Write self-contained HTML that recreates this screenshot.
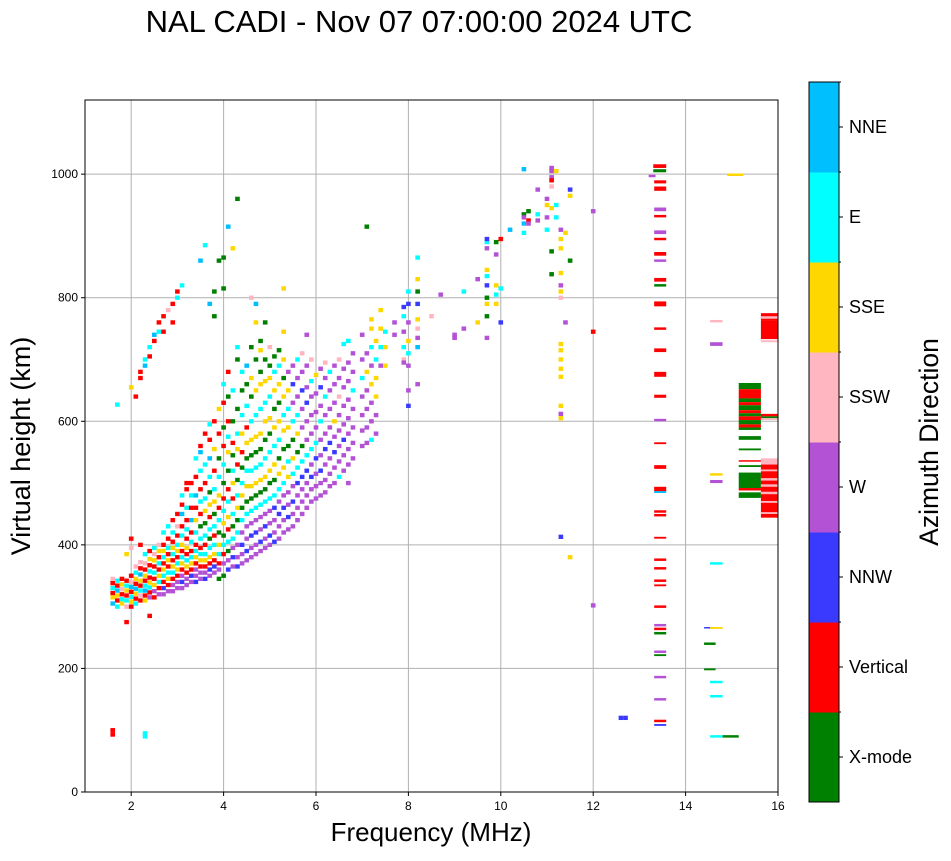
<!DOCTYPE html>
<html><head><meta charset="utf-8"><style>
body{margin:0;background:#fff;font-family:"Liberation Sans",sans-serif}
svg text{font-family:"Liberation Sans",sans-serif}
</style></head><body>
<svg id="chart" width="951" height="856" xmlns="http://www.w3.org/2000/svg">
<text x="419" y="32" font-size="31" text-anchor="middle">NAL CADI - Nov 07 07:00:00 2024 UTC</text>
<g id="grid"></g>
<g id="marks"></g>
<rect x="85" y="100" width="693" height="692" fill="none" stroke="#000" stroke-width="1"/>
<g id="axes"></g>
<text x="431" y="841" font-size="26" text-anchor="middle">Frequency (MHz)</text>
<text x="0" y="0" font-size="27" text-anchor="middle" transform="translate(30,446) rotate(-90)">Virtual height (km)</text>
<g id="cbar"></g>
<text x="0" y="0" font-size="26.5" text-anchor="middle" transform="translate(938,442) rotate(-90)">Azimuth Direction</text>
</svg>
<script>
const categories=["X-mode","Vertical","NNW","W","SSW","SSE","E","NNE"];
const colors=["#008000","#ff0000","#3a3aff","#b452d6","#ffb6c1","#ffd700","#00ffff","#00bfff"];
const xTicks=[2,4,6,8,10,12,14,16];
const yTicks=[0,200,400,600,800,1000];
// cells: [freq MHz, height km, category index] g0 r1 b2 w3 p4 y5 c6 n7
const cells=[
[1.6,305,7],[1.6,315,5],[1.6,322,1],[1.6,330,6],[1.6,338,1],[1.6,345,4],[1.6,100,1],[1.6,93,1],
[1.7,300,6],[1.7,310,1],[1.7,318,5],[1.7,326,7],[1.7,334,1],[1.7,342,6],[1.7,627,6],
[1.8,305,5],[1.8,312,6],[1.8,320,1],[1.8,328,4],[1.8,336,5],[1.8,345,1],
[1.9,275,1],[1.9,300,4],[1.9,310,6],[1.9,318,1],[1.9,326,5],[1.9,334,6],[1.9,342,1],[1.9,385,5],
[2.0,300,1],[2.0,308,5],[2.0,316,6],[2.0,324,1],[2.0,332,7],[2.0,340,4],[2.0,350,1],[2.0,395,4],[2.0,655,5],[2.0,410,1],
[2.1,305,6],[2.1,313,1],[2.1,321,5],[2.1,329,7],[2.1,337,1],[2.1,345,5],[2.1,355,6],[2.1,365,4],[2.1,640,1],
[2.2,310,1],[2.2,318,4],[2.2,326,6],[2.2,334,1],[2.2,342,5],[2.2,352,7],[2.2,362,1],[2.2,372,4],[2.2,400,1],[2.2,670,1],[2.2,680,1],
[2.3,310,5],[2.3,318,1],[2.3,326,7],[2.3,334,6],[2.3,342,1],[2.3,350,5],[2.3,360,1],[2.3,370,4],[2.3,385,6],[2.3,690,7],[2.3,700,6],[2.3,95,6],[2.3,90,6],
[2.4,285,1],[2.4,315,3],[2.4,323,1],[2.4,331,6],[2.4,339,5],[2.4,347,1],[2.4,357,6],[2.4,367,1],[2.4,377,5],[2.4,390,1],[2.4,705,1],[2.4,720,6],
[2.5,315,1],[2.5,325,3],[2.5,335,5],[2.5,345,1],[2.5,355,6],[2.5,365,1],[2.5,375,5],[2.5,385,4],[2.5,395,6],[2.5,730,1],[2.5,740,7],
[2.6,320,3],[2.6,330,1],[2.6,340,6],[2.6,350,5],[2.6,360,1],[2.6,370,6],[2.6,380,1],[2.6,390,5],[2.6,400,4],[2.6,745,6],[2.6,760,1],
[2.7,320,3],[2.7,330,2],[2.7,340,1],[2.7,350,6],[2.7,360,5],[2.7,370,1],[2.7,380,6],[2.7,390,5],[2.7,400,1],[2.7,420,6],[2.7,770,1],[2.7,745,1],
[2.8,325,3],[2.8,335,1],[2.8,345,5],[2.8,355,6],[2.8,365,1],[2.8,375,5],[2.8,385,1],[2.8,395,6],[2.8,410,1],[2.8,430,6],[2.8,780,4],
[2.9,325,3],[2.9,335,3],[2.9,345,1],[2.9,355,6],[2.9,365,5],[2.9,375,1],[2.9,385,6],[2.9,395,5],[2.9,405,1],[2.9,420,6],[2.9,440,1],[2.9,760,1],[2.9,790,1],
[3.0,330,3],[3.0,340,3],[3.0,350,1],[3.0,360,5],[3.0,370,6],[3.0,380,1],[3.0,390,5],[3.0,400,6],[3.0,415,1],[3.0,430,4],[3.0,450,1],[3.0,800,6],[3.0,810,1],
[3.1,330,3],[3.1,340,2],[3.1,350,3],[3.1,360,1],[3.1,370,5],[3.1,380,6],[3.1,390,1],[3.1,400,5],[3.1,415,6],[3.1,430,1],[3.1,450,7],[3.1,465,1],[3.1,480,6],[3.1,820,6],
[3.2,335,3],[3.2,345,3],[3.2,355,1],[3.2,365,5],[3.2,375,6],[3.2,385,1],[3.2,395,5],[3.2,410,1],[3.2,425,6],[3.2,440,1],[3.2,460,6],[3.2,490,1],[3.2,500,1],
[3.3,340,3],[3.3,350,2],[3.3,360,1],[3.3,370,5],[3.3,380,6],[3.3,390,1],[3.3,405,6],[3.3,420,1],[3.3,440,7],[3.3,460,1],[3.3,480,6],[3.3,500,1],
[3.4,340,2],[3.4,350,3],[3.4,360,3],[3.4,370,1],[3.4,380,5],[3.4,390,6],[3.4,400,1],[3.4,420,6],[3.4,440,5],[3.4,460,1],[3.4,480,7],[3.4,510,1],[3.4,540,6],
[3.5,345,3],[3.5,355,3],[3.5,365,1],[3.5,375,5],[3.5,385,6],[3.5,395,1],[3.5,410,6],[3.5,430,0],[3.5,450,1],[3.5,470,6],[3.5,490,1],[3.5,520,6],[3.5,550,7],[3.5,560,1],[3.5,860,7],
[3.6,345,2],[3.6,355,3],[3.6,365,1],[3.6,375,5],[3.6,385,6],[3.6,400,1],[3.6,415,6],[3.6,435,0],[3.6,455,5],[3.6,475,6],[3.6,500,1],[3.6,530,6],[3.6,580,1],[3.6,885,6],
[3.7,350,3],[3.7,360,2],[3.7,370,1],[3.7,380,5],[3.7,395,6],[3.7,410,0],[3.7,425,6],[3.7,445,1],[3.7,465,5],[3.7,485,0],[3.7,510,6],[3.7,540,7],[3.7,570,1],[3.7,595,6],[3.7,790,7],
[3.8,355,3],[3.8,365,2],[3.8,375,1],[3.8,385,5],[3.8,400,6],[3.8,415,1],[3.8,430,6],[3.8,450,0],[3.8,470,5],[3.8,490,6],[3.8,520,1],[3.8,555,5],[3.8,600,1],[3.8,770,0],[3.8,810,0],
[3.9,345,0],[3.9,360,3],[3.9,370,1],[3.9,385,6],[3.9,400,5],[3.9,420,0],[3.9,440,6],[3.9,460,1],[3.9,480,5],[3.9,510,6],[3.9,540,0],[3.9,580,1],[3.9,620,5],[3.9,860,0],
[4.0,350,0],[4.0,370,3],[4.0,385,1],[4.0,400,6],[4.0,415,0],[4.0,435,5],[4.0,455,6],[4.0,475,1],[4.0,500,0],[4.0,530,6],[4.0,560,1],[4.0,590,0],[4.0,630,1],[4.0,660,6],[4.0,815,0],[4.0,865,0],
[4.1,360,2],[4.1,375,3],[4.1,390,0],[4.1,405,6],[4.1,425,1],[4.1,445,5],[4.1,470,6],[4.1,490,1],[4.1,520,0],[4.1,550,5],[4.1,575,6],[4.1,600,1],[4.1,640,0],[4.1,680,1],[4.1,915,7],
[4.2,365,3],[4.2,380,2],[4.2,395,3],[4.2,410,6],[4.2,430,0],[4.2,450,6],[4.2,475,1],[4.2,500,5],[4.2,520,6],[4.2,545,0],[4.2,565,1],[4.2,600,0],[4.2,650,6],[4.2,880,5],
[4.3,365,2],[4.3,380,3],[4.3,400,3],[4.3,420,6],[4.3,440,0],[4.3,460,5],[4.3,480,6],[4.3,505,0],[4.3,530,1],[4.3,555,5],[4.3,580,6],[4.3,620,0],[4.3,700,0],[4.3,960,0],[4.3,720,6],
[4.4,370,3],[4.4,385,3],[4.4,400,2],[4.4,420,3],[4.4,440,6],[4.4,460,0],[4.4,480,5],[4.4,500,6],[4.4,525,0],[4.4,550,1],[4.4,580,5],[4.4,610,6],[4.4,650,0],[4.4,680,6],
[4.5,375,3],[4.5,390,2],[4.5,410,3],[4.5,430,3],[4.5,450,6],[4.5,470,0],[4.5,495,5],[4.5,520,6],[4.5,540,0],[4.5,565,5],[4.5,590,1],[4.5,625,6],[4.5,660,0],[4.5,690,7],
[4.6,380,3],[4.6,395,3],[4.6,415,2],[4.6,435,3],[4.6,455,6],[4.6,475,0],[4.6,495,5],[4.6,520,6],[4.6,545,0],[4.6,570,5],[4.6,600,6],[4.6,640,0],[4.6,670,5],[4.6,720,0],[4.6,800,4],
[4.7,385,3],[4.7,400,3],[4.7,420,2],[4.7,440,3],[4.7,460,6],[4.7,480,0],[4.7,500,5],[4.7,525,6],[4.7,550,0],[4.7,575,5],[4.7,610,6],[4.7,650,5],[4.7,700,0],[4.7,760,5],[4.7,790,7],
[4.8,390,3],[4.8,405,2],[4.8,425,3],[4.8,445,3],[4.8,465,6],[4.8,485,0],[4.8,505,5],[4.8,530,6],[4.8,555,0],[4.8,580,5],[4.8,620,6],[4.8,660,5],[4.8,680,0],[4.8,715,5],[4.8,730,0],
[4.9,395,3],[4.9,410,3],[4.9,430,2],[4.9,450,3],[4.9,470,6],[4.9,490,0],[4.9,510,5],[4.9,540,6],[4.9,570,0],[4.9,600,5],[4.9,630,6],[4.9,665,5],[4.9,700,0],[4.9,760,0],
[5.0,400,3],[5.0,415,2],[5.0,435,3],[5.0,455,3],[5.0,475,6],[5.0,500,0],[5.0,520,5],[5.0,550,6],[5.0,580,0],[5.0,605,5],[5.0,640,6],[5.0,670,5],[5.0,690,0],[5.0,720,4],
[5.1,405,2],[5.1,420,3],[5.1,440,3],[5.1,460,2],[5.1,480,6],[5.1,505,0],[5.1,530,5],[5.1,560,6],[5.1,590,5],[5.1,620,0],[5.1,650,5],[5.1,680,6],[5.1,705,0],
[5.2,410,3],[5.2,430,3],[5.2,450,2],[5.2,470,3],[5.2,490,6],[5.2,515,5],[5.2,540,0],[5.2,570,6],[5.2,600,5],[5.2,630,0],[5.2,660,5],[5.2,690,6],[5.2,715,0],
[5.3,420,3],[5.3,440,3],[5.3,460,2],[5.3,480,3],[5.3,500,6],[5.3,525,5],[5.3,555,0],[5.3,585,5],[5.3,610,6],[5.3,640,5],[5.3,670,0],[5.3,700,5],[5.3,745,5],[5.3,815,5],
[5.4,425,3],[5.4,445,2],[5.4,465,3],[5.4,485,3],[5.4,510,5],[5.4,535,6],[5.4,560,0],[5.4,590,5],[5.4,620,6],[5.4,650,5],[5.4,680,3],
[5.5,430,3],[5.5,450,3],[5.5,470,2],[5.5,495,3],[5.5,515,6],[5.5,540,5],[5.5,570,0],[5.5,600,6],[5.5,630,3],[5.5,660,2],[5.5,690,3],
[5.6,440,3],[5.6,460,3],[5.6,480,3],[5.6,500,2],[5.6,525,6],[5.6,550,0],[5.6,580,5],[5.6,610,6],[5.6,640,3],[5.6,670,3],[5.6,700,6],
[5.7,450,3],[5.7,470,3],[5.7,490,3],[5.7,510,2],[5.7,535,6],[5.7,560,0],[5.7,590,3],[5.7,620,3],[5.7,650,2],[5.7,680,3],[5.7,710,4],
[5.8,460,3],[5.8,480,3],[5.8,500,3],[5.8,520,2],[5.8,545,6],[5.8,570,3],[5.8,600,3],[5.8,630,2],[5.8,655,3],[5.8,690,3],[5.8,740,3],
[5.9,470,3],[5.9,490,3],[5.9,510,2],[5.9,530,3],[5.9,555,6],[5.9,580,3],[5.9,610,3],[5.9,640,3],[5.9,665,6],[5.9,700,4],
[6.0,475,3],[6.0,495,3],[6.0,515,3],[6.0,540,2],[6.0,565,6],[6.0,590,3],[6.0,615,3],[6.0,645,3],[6.0,675,5],
[6.1,480,3],[6.1,500,3],[6.1,520,2],[6.1,545,3],[6.1,570,3],[6.1,600,6],[6.1,625,3],[6.1,655,2],[6.1,685,3],
[6.2,485,3],[6.2,505,3],[6.2,530,3],[6.2,555,2],[6.2,580,3],[6.2,610,3],[6.2,640,6],[6.2,670,3],[6.2,695,4],
[6.3,495,3],[6.3,515,3],[6.3,540,3],[6.3,565,2],[6.3,590,3],[6.3,620,3],[6.3,650,3],[6.3,680,6],
[6.4,500,3],[6.4,525,3],[6.4,550,2],[6.4,575,3],[6.4,600,5],[6.4,630,3],[6.4,660,3],[6.4,690,3],
[6.5,510,6],[6.5,535,3],[6.5,560,3],[6.5,585,3],[6.5,610,3],[6.5,640,4],[6.5,670,3],[6.5,700,4],
[6.6,520,3],[6.6,545,3],[6.6,570,2],[6.6,595,3],[6.6,625,3],[6.6,655,3],[6.6,685,3],[6.6,725,6],
[6.7,500,3],[6.7,530,3],[6.7,555,3],[6.7,580,3],[6.7,605,3],[6.7,635,3],[6.7,665,3],[6.7,695,3],[6.7,730,6],
[6.8,540,3],[6.8,565,3],[6.8,590,3],[6.8,620,3],[6.8,650,6],[6.8,680,3],[6.8,710,3],
[7.0,560,3],[7.0,585,3],[7.0,610,3],[7.0,640,3],[7.0,670,6],[7.0,700,3],[7.0,740,3],
[7.1,565,3],[7.1,590,3],[7.1,620,3],[7.1,650,3],[7.1,680,5],[7.1,710,3],[7.1,915,0],
[7.2,570,6],[7.2,600,3],[7.2,630,3],[7.2,660,5],[7.2,690,3],[7.2,720,6],[7.2,750,5],[7.2,765,5],
[7.3,580,3],[7.3,610,3],[7.3,640,5],[7.3,670,5],[7.3,700,6],[7.3,730,5],
[7.4,690,3],[7.4,720,6],[7.4,750,5],[7.4,780,5],[7.5,690,5],[7.5,720,5],[7.5,745,6],
[7.7,740,3],[7.7,760,3],[7.9,700,4],[7.9,720,6],[7.9,745,3],[7.9,770,6],[7.9,785,2],[7.9,695,3],
[8.0,650,3],[8.0,690,3],[8.0,710,6],[8.0,730,5],[8.0,760,3],[8.0,790,2],[8.0,810,6],[8.0,625,2],
[8.2,660,3],[8.2,720,7],[8.2,735,3],[8.2,750,4],[8.2,765,5],[8.2,790,2],[8.2,810,0],[8.2,830,5],[8.2,865,6],
[8.5,770,4],[8.7,805,3],[9.0,740,3],[9.0,735,3],[9.2,750,3],[9.2,810,6],[9.5,830,3],[9.5,760,5],
[9.7,735,3],[9.7,770,0],[9.7,790,5],[9.7,800,0],[9.7,820,2],[9.7,835,6],[9.7,845,5],[9.7,880,3],[9.7,890,6],[9.7,895,2],
[9.9,790,5],[9.9,805,6],[9.9,820,5],[9.9,870,3],[9.9,890,0],[10.0,895,1],[10.0,760,2],[10.0,815,6],
[10.2,910,7],[10.5,920,7],[10.5,935,0],[10.5,1008,7],[10.5,905,6],[10.5,930,3],
[10.6,940,0],[10.6,925,1],[10.6,920,3],[10.8,925,3],[10.8,935,6],[10.8,975,3],
[11.0,950,5],[11.0,960,3],[11.0,930,3],[11.0,910,6],[11.1,945,5],[11.1,1005,3],[11.1,1010,3],[11.1,995,3],[11.1,990,1],[11.1,980,4],
[11.2,1005,5],[11.2,950,6],[11.1,875,0],[11.2,930,6],[11.1,838,0],
[11.3,910,3],[11.3,895,5],[11.3,880,5],[11.3,840,5],[11.3,820,3],[11.3,810,5],[11.3,800,4],[11.3,725,5],[11.3,715,5],[11.3,700,5],[11.3,685,5],[11.3,672,5],[11.3,625,5],[11.3,612,3],[11.3,605,5],[11.3,413,2],
[11.5,975,2],[11.5,965,5],[11.5,860,0],[11.4,905,5],[11.4,760,3],[11.5,380,5],
[12.0,940,3],[12.0,745,1],[12.0,302,3],[12.7,120,2],[12.6,120,2]
];
// bars: [f0, f1, h0, h1, category]
const bars=[
[13.3,13.58,1010,1016,1],[13.3,13.58,1003,1008,0],[13.2,13.35,995,999,3],[13.32,13.58,985,990,1],[13.32,13.58,973,980,1],[13.32,13.58,940,946,3],[13.32,13.58,930,934,1],
[13.32,13.58,903,909,3],[13.32,13.58,893,897,1],[13.32,13.58,868,874,1],[13.32,13.58,858,862,3],[13.32,13.58,826,832,1],[13.32,13.58,818,822,0],
[13.32,13.58,786,794,1],[13.32,13.58,748,752,1],[13.32,13.58,712,718,1],[13.32,13.58,672,680,1],[13.32,13.58,638,643,1],[13.32,13.58,600,604,3],
[13.32,13.58,563,566,1],[13.32,13.58,523,529,1],[13.32,13.58,486,494,1],[13.32,13.58,484,487,7],[13.32,13.58,452,456,1],[13.32,13.58,446,450,1],
[13.32,13.58,410,413,1],[13.32,13.58,374,378,1],[13.32,13.58,360,364,1],[13.32,13.58,340,344,1],[13.32,13.58,333,336,1],[13.32,13.58,298,302,1],
[13.32,13.58,268,272,3],[13.32,13.58,262,266,1],[13.32,13.58,255,259,0],[13.32,13.58,225,229,3],[13.32,13.58,220,223,0],[13.32,13.58,184,188,3],
[13.32,13.58,148,152,3],[13.32,13.58,113,117,1],[13.32,13.58,107,110,2],
[14.4,14.65,265,267,2],[14.4,14.65,238,242,0],[14.4,14.65,197,200,0],
[14.53,14.8,760,764,4],[14.53,14.8,722,728,3],[14.53,14.8,512,516,5],[14.53,14.8,500,505,3],[14.53,14.8,368,372,6],[14.53,14.8,264,267,5],
[14.53,14.8,176,180,6],[14.53,14.8,153,157,6],[14.53,14.8,88,92,6],[14.8,15.15,88,92,0],[14.9,15.25,997,1001,5],
[15.15,15.63,652,662,0],[15.15,15.63,637,652,1],[15.15,15.63,631,637,0],[15.15,15.63,626,631,1],[15.15,15.63,618,626,0],[15.15,15.63,613,618,1],
[15.15,15.63,608,613,0],[15.15,15.63,602,608,1],[15.15,15.63,595,602,0],[15.15,15.63,590,595,1],[15.15,15.63,586,590,0],[15.15,15.63,570,576,0],
[15.15,15.63,553,556,0],[15.15,15.63,535,537,1],[15.15,15.63,526,529,0],[15.15,15.63,492,517,0],[15.15,15.63,488,492,1],[15.15,15.63,476,485,0],
[15.63,16,763,775,1],[15.63,16,766,770,4],[15.63,16,733,763,1],[15.63,16,728,731,4],[15.63,16,608,612,1],[15.63,16,605,608,0],[15.63,16,602,605,4],
[15.63,16,530,540,4],[15.63,16,444,530,1],[15.63,16,519,522,4],[15.63,16,504,508,4],[15.63,16,494,498,4],[15.63,16,482,486,4],[15.63,16,468,471,4],[15.63,16,450,453,4]
];
const NS="http://www.w3.org/2000/svg";
const L=85,R=778,T=100,B=792,XMIN=1,XMAX=16,YMIN=0,YMAX=1120;
const X=f=>L+(f-XMIN)/(XMAX-XMIN)*(R-L);
const Y=h=>B-(h-YMIN)/(YMAX-YMIN)*(B-T);
function mk(tag,attrs,parent){const e=document.createElementNS(NS,tag);for(const k in attrs)e.setAttribute(k,attrs[k]);parent.appendChild(e);return e;}
const grid=document.getElementById('grid'),marks=document.getElementById('marks'),axes=document.getElementById('axes'),cbar=document.getElementById('cbar');
xTicks.forEach(t=>{
  const l=mk('line',{x1:X(t),x2:X(t),y1:T,y2:B,stroke:'#b0b0b0','stroke-width':1},grid);
  
  
  const tk=mk('line',{x1:X(t),x2:X(t),y1:B,y2:B+4,stroke:'#000'},axes);
  
  
  const tx=mk('text',{x:X(t),y:B+18,'font-size':12,'text-anchor':'middle'},axes);tx.textContent=t;
  
  
});
yTicks.forEach(t=>{
  const l=mk('line',{x1:L,x2:R,y1:Y(t),y2:Y(t),stroke:'#b0b0b0','stroke-width':1},grid);
  
  
  const tk=mk('line',{x1:L-4,x2:L,y1:Y(t),y2:Y(t),stroke:'#000'},axes);
  
  
  const tx=mk('text',{x:L-7,y:Y(t)+4,'font-size':12,'text-anchor':'end'},axes);tx.textContent=t;
  
  
});
const cw=X(1.1)-X(1), ch=Y(0)-Y(7);
cells.forEach(d=>{
  const r=mk('rect',{x:X(d[0])-cw/2,y:Y(d[1])-ch/2,width:cw,height:ch,fill:colors[d[2]]},marks);
  
  
});
bars.forEach(d=>{
  const r=mk('rect',{x:X(d[0]),y:Y(d[3]),width:X(d[1])-X(d[0]),height:Math.max(1.5,Y(d[2])-Y(d[3])),fill:colors[d[4]]},marks);
  
  
});
// colorbar
const CX=809,CW=30,CT=82,CB=802,seg=(CB-CT)/categories.length;
categories.forEach((c,i)=>{
  const y0=CB-(i+1)*seg;
  const r=mk('rect',{x:CX,y:y0,width:CW,height:seg+0.5,fill:colors[i]},cbar);
  
  
  const tk=mk('line',{x1:CX+CW,x2:CX+CW+4,y1:y0+seg/2,y2:y0+seg/2,stroke:'#000'},cbar);
  
  
  const mt=mk('line',{x1:CX+CW,x2:CX+CW+2,y1:y0,y2:y0,stroke:'#000'},cbar);
  
  
  const tx=mk('text',{x:CX+CW+10,y:y0+seg/2+6,'font-size':18},cbar);tx.textContent=c;
  
  
});
const fr=mk('rect',{x:CX,y:CT,width:CW,height:CB-CT,fill:'none',stroke:'#000'},cbar);


</script>
</body></html>
